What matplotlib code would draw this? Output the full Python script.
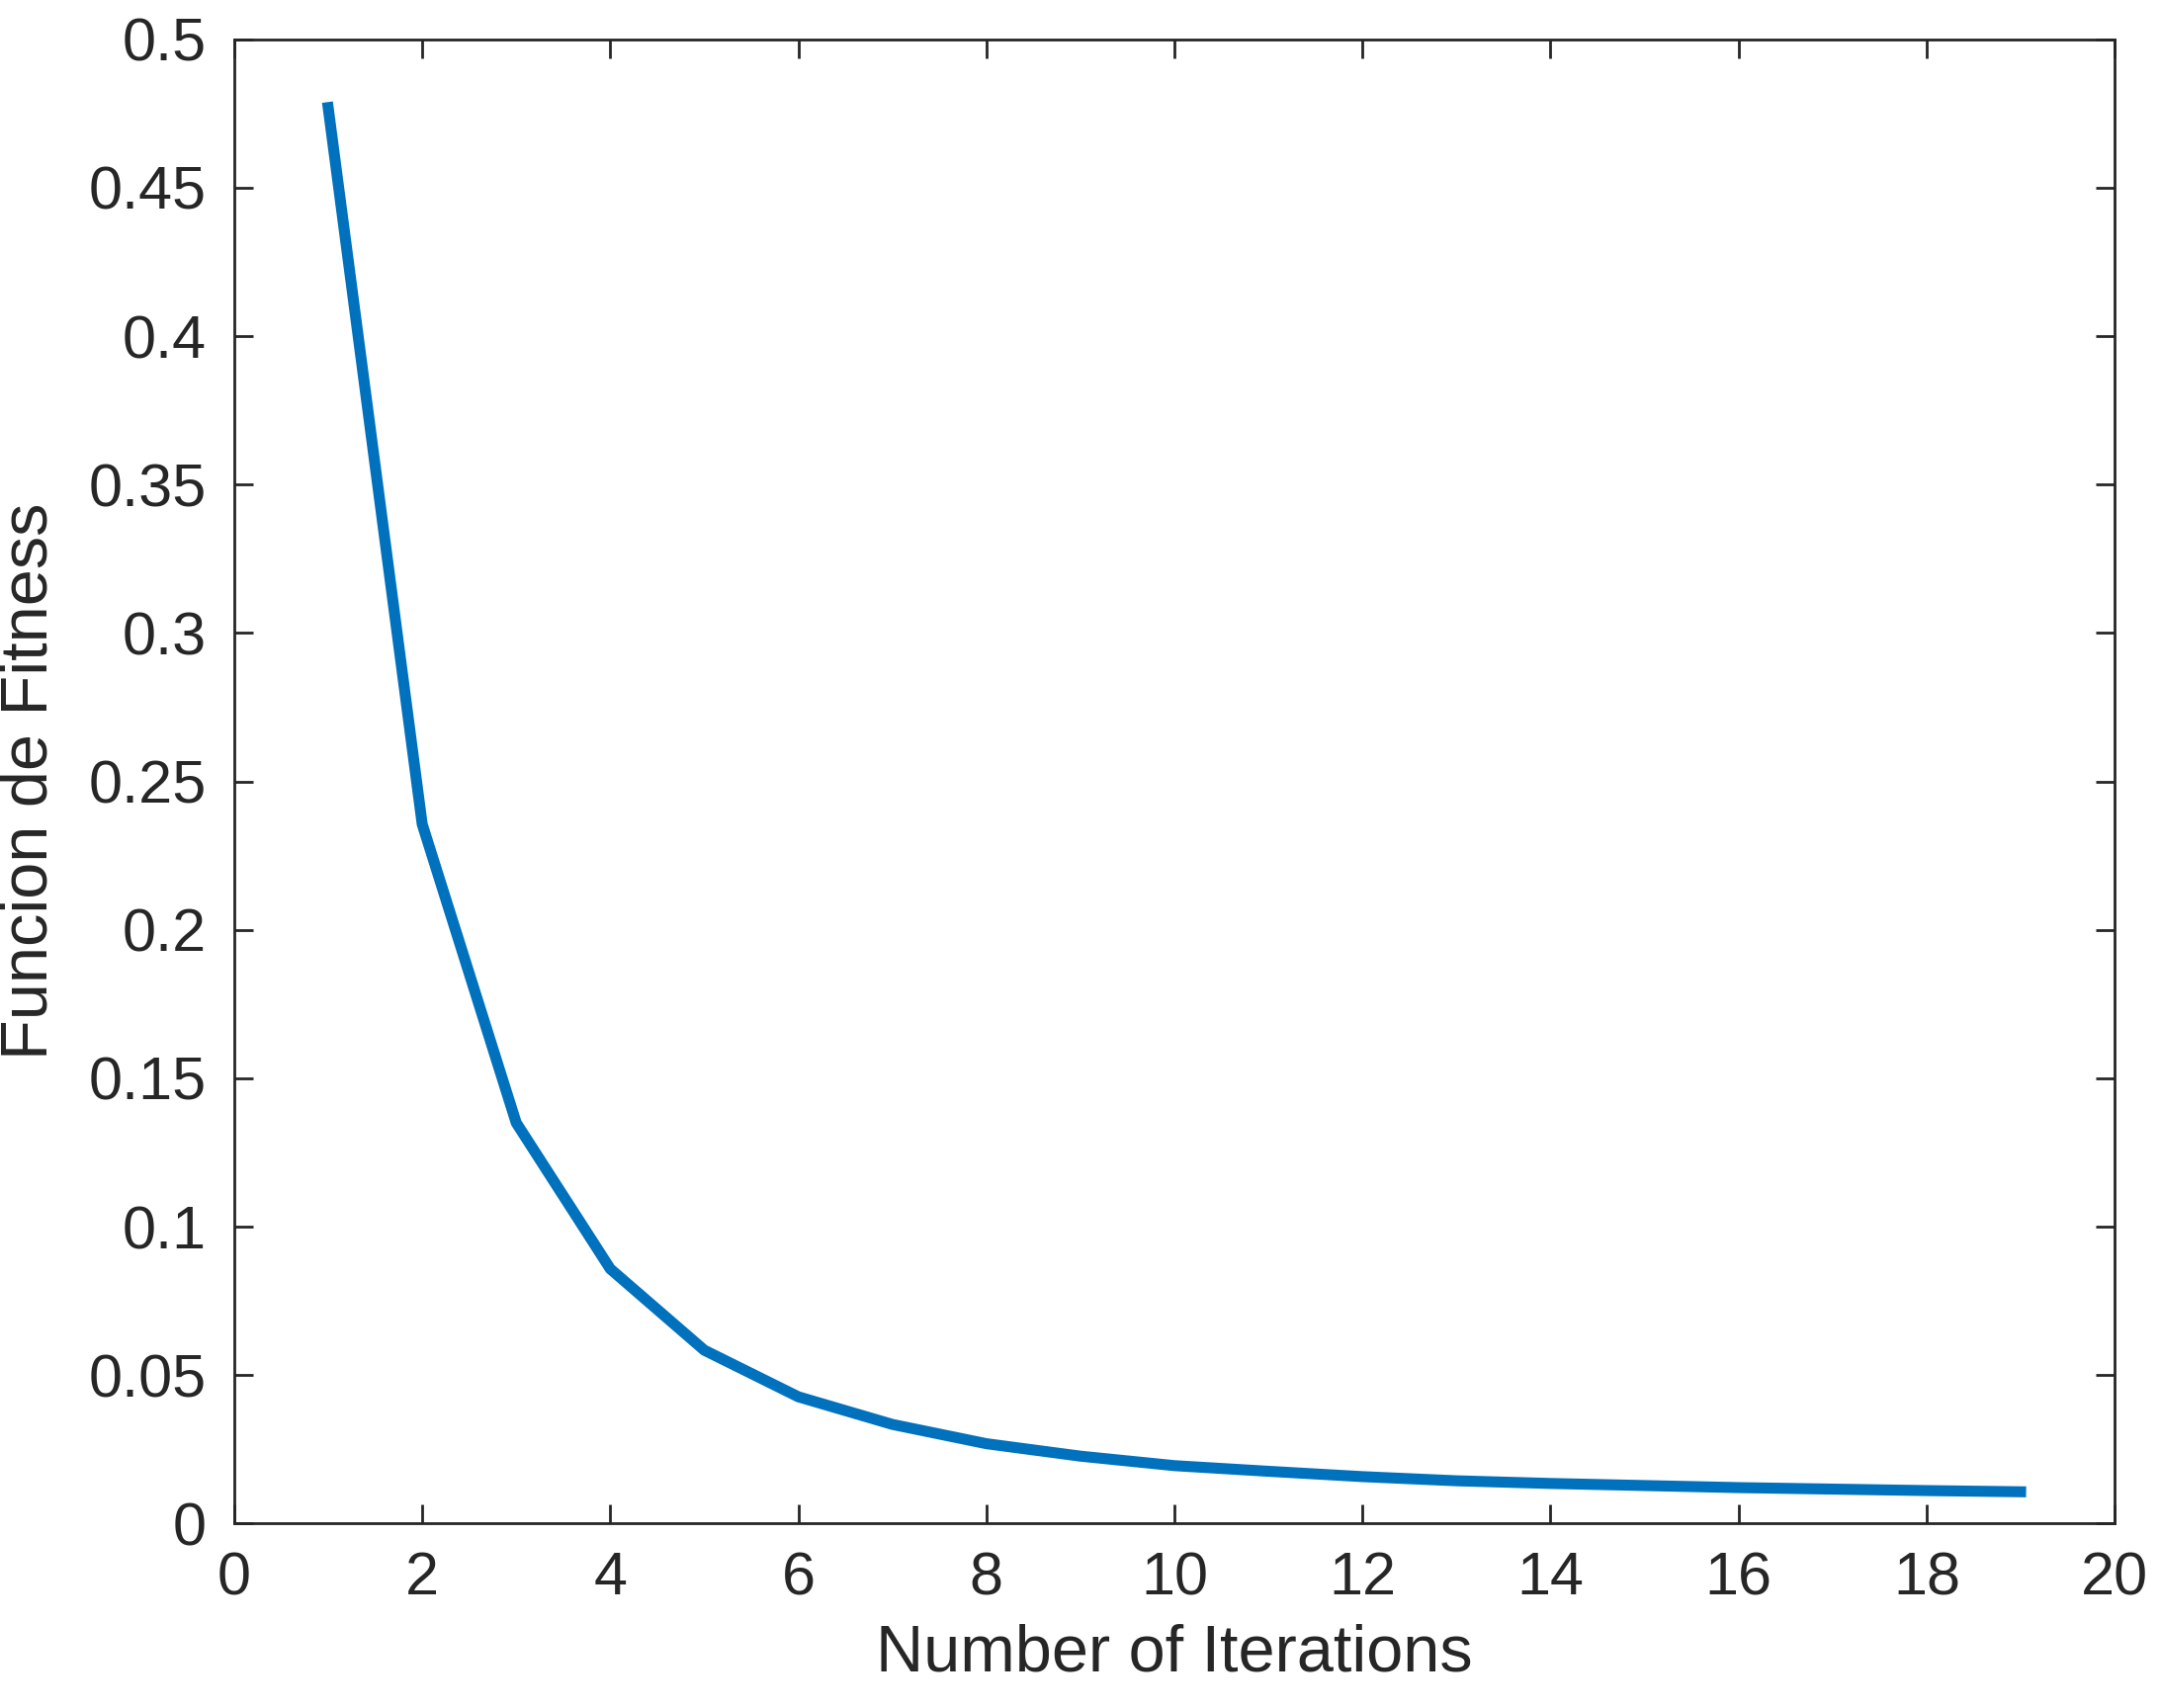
import matplotlib
matplotlib.use('Agg')
import matplotlib.pyplot as plt

iterations = list(range(1, 20))
fitness = [0.477, 0.2356, 0.135, 0.0858, 0.0584, 0.0427, 0.0334, 0.0269, 0.0227,
           0.0195, 0.0176, 0.0158, 0.0144, 0.0135, 0.0128, 0.0121, 0.0116, 0.0111, 0.0107]

plt.rcParams['font.family'] = ['Liberation Sans', 'DejaVu Sans']

fig = plt.figure(figsize=(10.925, 8.64), dpi=200)
ax = fig.add_axes([0.1084, 0.108, 0.8706, 0.869])
ax.plot(iterations, fitness, color='#0072BD', linewidth=4)
ax.set_xlim(0, 20)
ax.set_ylim(0, 0.5)
ax.set_xticks(range(0, 21, 2))
ax.set_yticks([i * 0.05 for i in range(11)])
ax.set_yticklabels(['0', '0.05', '0.1', '0.15', '0.2', '0.25', '0.3', '0.35', '0.4', '0.45', '0.5'])
ax.tick_params(direction='in', top=True, right=True, labelsize=22, length=7, width=1,
               colors='#262626', pad=10)
for s in ax.spines.values():
    s.set_linewidth(1)
    s.set_color('#262626')
ax.set_xlabel('Number of Iterations', fontsize=24, color='#262626', labelpad=6)
ax.set_ylabel('Funcion de Fitness', fontsize=24, color='#262626', labelpad=10)
fig.savefig('out.png', dpi=200)
